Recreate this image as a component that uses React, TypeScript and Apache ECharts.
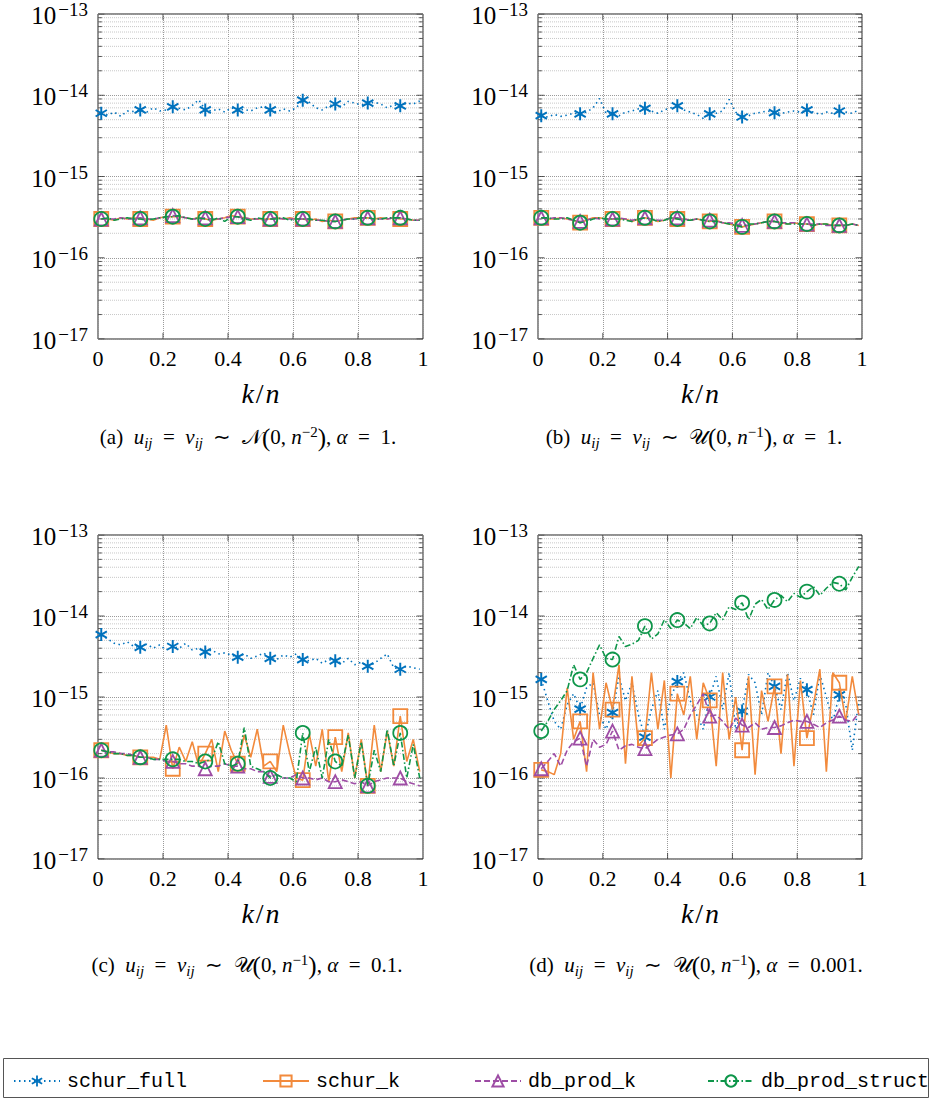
import React, { useEffect, useRef } from "react";
import * as echarts from "echarts";

// x positions k/n
const X = [0.01,0.03,0.05,0.07,0.09,0.11,0.13,0.15,0.17,0.19,0.21,0.23,0.25,0.27,0.29,0.31,0.33,0.35,0.37,0.39,0.41,0.43,0.45,0.47,0.49,0.51,0.53,0.55,0.57,0.59,0.61,0.63,0.65,0.67,0.69,0.71,0.73,0.75,0.77,0.79,0.81,0.83,0.85,0.87,0.89,0.91,0.93,0.95,0.97,0.99];
const MARK_IDX = [0,6,11,16,21,26,31,36,41,46];
const UNIT = 1e-17; // values below are in units of 1e-17

const SERIES_NAMES = ["schur_full", "schur_k", "db_prod_k", "db_prod_struct"];

// panel (a)
const A_FULL = [600,570,620,550,640,630,660,620,700,640,660,720,690,660,750,880,660,640,680,620,700,660,670,640,700,720,660,620,680,640,700,870,820,700,660,740,780,720,840,800,760,800,820,780,700,760,740,800,780,850];
const A_K = [30,30,29,31,30,31,30,30,29,31,32,32,32,31,30,31,30,29,30,31,33,32,31,30,30,30,30,31,30,31,30,30,29,30,28,29,28,29,30,31,31,31,30,31,30,31,30,30,29,29];
const A_PK = [30,30,30,31,30,30,31,30,30,31,32,33,32,31,30,30,31,30,30,31,32,32,31,30,30,29,30,31,30,30,30,30,30,29,29,28,28,29,30,30,31,31,30,30,30,31,31,30,29,29];
const A_PS = [30,31,29,30,31,30,30,29,30,31,32,32,33,31,30,31,30,29,31,28,32,32,30,29,31,30,30,30,31,29,30,30,30,29,29,28,28,29,30,30,31,31,30,30,31,31,31,30,29,29];

// panel (b)
const B_FULL = [560,540,580,550,570,600,590,620,700,910,600,590,560,620,640,680,690,640,600,660,700,740,660,620,580,520,590,600,640,890,620,540,560,600,620,640,610,600,620,640,620,660,620,580,620,600,640,620,600,660];
const B_K = [31,30,30,31,30,29,27,29,31,31,30,30,30,30,28,30,31,30,28,29,31,30,30,29,30,29,28,29,27,26,25,24,25,26,27,28,28,27,26,27,26,26,25,26,26,25,25,25,26,25];
const B_PK = [31,30,31,31,30,29,28,29,31,30,30,30,31,30,29,30,31,30,29,29,31,31,30,29,30,29,29,28,27,27,26,25,25,26,27,28,28,27,27,27,26,26,26,26,25,25,25,25,26,25];
const B_PS = [31,31,30,30,31,29,27,28,30,31,30,30,30,29,28,30,31,30,28,29,31,30,29,29,30,29,28,28,27,26,25,24,26,26,27,28,28,27,26,26,26,26,25,26,26,25,25,25,26,25];

// panel (c)
const C_FULL = [590,520,460,440,480,420,410,450,400,440,380,420,400,460,380,400,360,380,340,350,330,310,340,300,320,350,300,290,330,310,340,290,280,300,260,290,280,260,300,250,270,240,260,300,340,230,220,240,230,220];
const C_K = [22,21,20,20,19,19,18,18,18,17,45,13,24,16,28,14,20,30,12,38,22,15,34,18,40,14,16,12,45,20,10,9.4,35,14,40,9,32,12,36,10,30,8,45,12,38,14,58,16,30,12];
const C_PK = [22,21,21,20,20,19,18,18,17,17,16,16,15,15,14,14,13,14,14,15,14,14,13,13,12,12,10.5,11,10,10,11,10,10,9.5,10,9,9,9.5,9,8.5,9,8,9,9.5,10,10,10,9,8.5,8];
const C_PS = [22,21,20,20,19,19,18,18,17,17,17,17,17,16,16,15,16,17,28,15,14,15,42,14,13,12,10,11,10,10,9,36,12,24,10,30,16,14,34,10,28,8,22,12,40,14,36,10,26,10];

// panel (d)
const D_FULL = [165,90,50,40,80,110,71,130,150,60,40,64,180,90,150,60,32,70,120,40,100,155,200,90,60,40,100,180,70,200,40,67,190,150,60,200,135,70,200,90,170,123,60,190,100,50,106,80,22,90];
const D_K = [12.6,12,11,20,130,30,50,12,200,40,150,70,250,15,180,25,31,200,40,160,10,110,60,180,30,150,91,14,200,30,100,22,180,11,120,50,135,20,190,14,160,31,80,220,12,200,150,50,180,60];
const D_PK = [13,16,20,14,22,28,31,14,30,24,26,38,22,25,26,24,23,26,30,32,34,35,40,60,80,110,58,60,50,40,55,45,42,48,40,42,42,44,48,52,50,50,46,42,48,52,58,52,50,63];
const D_PS = [38,50,70,90,120,250,165,200,300,440,300,290,560,420,450,500,750,520,600,900,700,890,820,700,960,760,810,1100,900,1300,1200,1460,900,1400,1600,1200,1580,1800,1500,1900,1700,2000,2300,1800,2200,2600,2500,2100,3000,4100];

const PANEL_DATA = [
  [A_FULL, A_K, A_PK, A_PS],
  [B_FULL, B_K, B_PK, B_PS],
  [C_FULL, C_K, C_PK, C_PS],
  [D_FULL, D_K, D_PK, D_PS],
];

const X_TICKS = [0, 0.2, 0.4, 0.6, 0.8, 1];
const Y_DECADES = [1e-17, 1e-16, 1e-15, 1e-14, 1e-13];
const MANTISSAS = [2, 3, 4, 5, 6, 7, 8, 9];

const CAPTIONS = [
  { label: "a", dist: "𝒩", exp: "2", alpha: "1" },
  { label: "b", dist: "𝒰", exp: "1", alpha: "1" },
  { label: "c", dist: "𝒰", exp: "1", alpha: "0.1" },
  { label: "d", dist: "𝒰", exp: "1", alpha: "0.001" },
];

const GRIDS = [
  { left: 98, top: 14, width: 325, height: 325 },
  { left: 538, top: 14, width: 324, height: 325 },
  { left: 98, top: 535, width: 325, height: 324 },
  { left: 538, top: 535, width: 324, height: 324 },
];
const CAPTION_POS = [
  [248, 437],
  [694, 437],
  [247, 965],
  [696, 965],
];
const LEGEND_LEFT = [13, 262, 474, 707];

const SERIF = '"Liberation Serif", "Times New Roman", serif';
const MONO = '"Liberation Mono", "DejaVu Sans Mono", monospace';

const COLORS = ["#0072BD", "#F28A3C", "#9E4DA5", "#0E964A"];
const ASTERISK =
  "path://M85,0L115,0L115,200L85,200Z M179.1,37L194.1,63L20.9,163L5.9,137Z M194.1,137L179.1,163L5.9,63L20.9,37Z";

function buildOption() {
  const series: any[] = [];
  const styles = [
    { symbol: ASTERISK, size: 13, dash: [1.5, 3.5], hollow: false },
    { symbol: "rect", size: 14, dash: "solid", hollow: true },
    { symbol: "triangle", size: 13, dash: [6, 3], hollow: true },
    { symbol: "circle", size: 14, dash: [6, 2.5, 1.5, 2.5], hollow: true },
  ];

  GRIDS.forEach((_, gi) => {
    // minor grid lines (2..9 x 10^k), as broken line segments
    const minor: any[] = [];
    const ticks: any[] = [];
    Y_DECADES.slice(0, 4).forEach((d) => {
      MANTISSAS.forEach((m) => {
        const v = d * m;
        minor.push([0, v], [1, v], [0.5, "-"]);
        ticks.push([0, v], [0.012, v], [0.5, "-"]);
        ticks.push([0.988, v], [1, v], [0.5, "-"]);
      });
    });
    Y_DECADES.forEach((d) => {
      ticks.push([0, d], [0.02, d], [0.5, "-"]);
      ticks.push([0.98, d], [1, d], [0.5, "-"]);
    });
    X_TICKS.slice(1, 5).forEach((x) => {
      ticks.push([x, 1e-17], [x, 1.19e-17], [x, "-"]);
      ticks.push([x, 1e-13 / 1.19], [x, 1e-13], [x, "-"]);
    });
    series.push({
      type: "line",
      name: "_minor" + gi,
      xAxisIndex: gi,
      yAxisIndex: gi,
      data: minor,
      symbol: "none",
      connectNulls: false,
      lineStyle: { type: "dotted", color: "#c8c8c8", width: 1 },
      silent: true,
      z: 1,
    });
    series.push({
      type: "line",
      name: "_ticks" + gi,
      xAxisIndex: gi,
      yAxisIndex: gi,
      data: ticks,
      symbol: "none",
      connectNulls: false,
      lineStyle: { type: "solid", color: "#333", width: 0.8 },
      silent: true,
      z: 2,
    });

    PANEL_DATA[gi].forEach((vals, si) => {
      const st = styles[si];
      const data = X.map((x, j) =>
        MARK_IDX.includes(j)
          ? [x, vals[j] * UNIT]
          : { value: [x, vals[j] * UNIT], symbol: "none" }
      );
      series.push({
        type: "line",
        name: SERIES_NAMES[si],
        xAxisIndex: gi,
        yAxisIndex: gi,
        data,
        z: 3 + si,
        symbol: st.symbol,
        symbolSize: st.size,
        symbolKeepAspect: true,
        lineStyle: { color: COLORS[si], width: 1.6, type: st.dash },
        itemStyle: st.hollow
          ? { color: "rgba(255,255,255,0)", borderColor: COLORS[si], borderWidth: 1.8 }
          : { color: COLORS[si], borderWidth: 0 },
        emphasis: { disabled: true },
      });
    });
  });

  const captionText = (c: any) =>
    `{n|(${c.label})  }{i|u}{sub|ij}{n|\u2002=\u2002}{i|v}{sub|ij}{n|\u2002∼\u2002}{c|${c.dist}}{p|(}{n|0, }{i|n}{sup|−${c.exp}}{p|)}{n|, }{i|α}{n|\u2002=\u2002${c.alpha}.}`;

  const captionRich = {
    n: { fontSize: 21, fontFamily: SERIF, lineHeight: 26, color: "#000" },
    i: { fontSize: 21, fontFamily: SERIF, fontStyle: "italic", lineHeight: 26, color: "#000" },
    sub: { fontSize: 15, fontFamily: SERIF, fontStyle: "italic", lineHeight: 14, verticalAlign: "bottom", color: "#000" },
    sup: { fontSize: 15, fontFamily: SERIF, lineHeight: 14, verticalAlign: "top", color: "#000" },
    p: { fontSize: 25, fontFamily: SERIF, lineHeight: 26, color: "#000" },
    c: { fontSize: 21, fontFamily: '"DejaVu Serif", "DejaVu Sans", serif', lineHeight: 26, color: "#000" },
  };

  const graphic: any[] = CAPTIONS.map((c, i) => ({
    type: "text",
    x: CAPTION_POS[i][0],
    y: CAPTION_POS[i][1],
    style: {
      text: captionText(c),
      rich: captionRich,
      align: "center",
      verticalAlign: "middle",
    },
  }));
  graphic.push({
    type: "rect",
    shape: { x: 3.5, y: 1058.5, width: 925, height: 39 },
    style: { fill: "none", stroke: "#555", lineWidth: 1 },
  });

  return {
    animation: false,
    backgroundColor: "#fff",
    grid: GRIDS.map((g) => ({ ...g, show: true, borderColor: "#222", borderWidth: 1, backgroundColor: "transparent" })),
    xAxis: GRIDS.map((_, i) => ({
      type: "value",
      gridIndex: i,
      min: 0,
      max: 1,
      interval: 0.2,
      axisLine: { show: false },
      axisTick: { show: false },
      splitLine: { show: true, lineStyle: { type: "dotted", color: "#9a9a9a", width: 1 } },
      axisLabel: {
        margin: 8,
        fontSize: 22,
        fontFamily: SERIF,
        color: "#000",
        formatter: (v: number) => String(Math.round(v * 10) / 10),
      },
      name: "{i|k}{r|/}{i|n}",
      nameLocation: "middle",
      nameGap: 40,
      nameTextStyle: {
        rich: {
          i: { fontSize: 28, fontFamily: SERIF, fontStyle: "italic", color: "#000" },
          r: { fontSize: 28, fontFamily: SERIF, color: "#000", padding: [0, 2, 0, 2] },
        },
      },
    })),
    yAxis: GRIDS.map((_, i) => ({
      type: "log",
      logBase: 10,
      gridIndex: i,
      min: 1e-17,
      max: 1e-13,
      splitNumber: 4,
      axisLine: { show: false },
      axisTick: { show: false },
      splitLine: { show: true, lineStyle: { type: "dotted", color: "#9a9a9a", width: 1 } },
      axisLabel: {
        margin: 10,
        formatter: (v: number) => {
          const e = Math.round(Math.log10(v));
          return `{b|10}{s|−${-e}}`;
        },
        rich: {
          b: { fontSize: 25, fontFamily: SERIF, color: "#000", lineHeight: 28, verticalAlign: "bottom" },
          s: { fontSize: 19, fontFamily: SERIF, color: "#000", lineHeight: 16, verticalAlign: "top", padding: [0, 0, 0, 2] },
        },
      },
    })),
    legend: SERIES_NAMES.map((name, i) => ({
      data: [name],
      left: LEGEND_LEFT[i],
      top: 1071,
      padding: 0,
      itemWidth: 46,
      itemHeight: 14,
      selectedMode: false,
      textStyle: { fontFamily: MONO, fontSize: 20, color: "#000", padding: [0, 0, 0, 2] },
    })),
    graphic,
    series,
  };
}

export default function App() {
  const ref = useRef<HTMLDivElement>(null);
  useEffect(() => {
    document.body.style.margin = "0";
    if (!ref.current) return;
    const chart = echarts.init(ref.current, undefined, { renderer: "svg" });
    chart.setOption(buildOption() as any);
    return () => chart.dispose();
  }, []);
  return <div ref={ref} style={{ width: 931, height: 1099 }} />;
}
